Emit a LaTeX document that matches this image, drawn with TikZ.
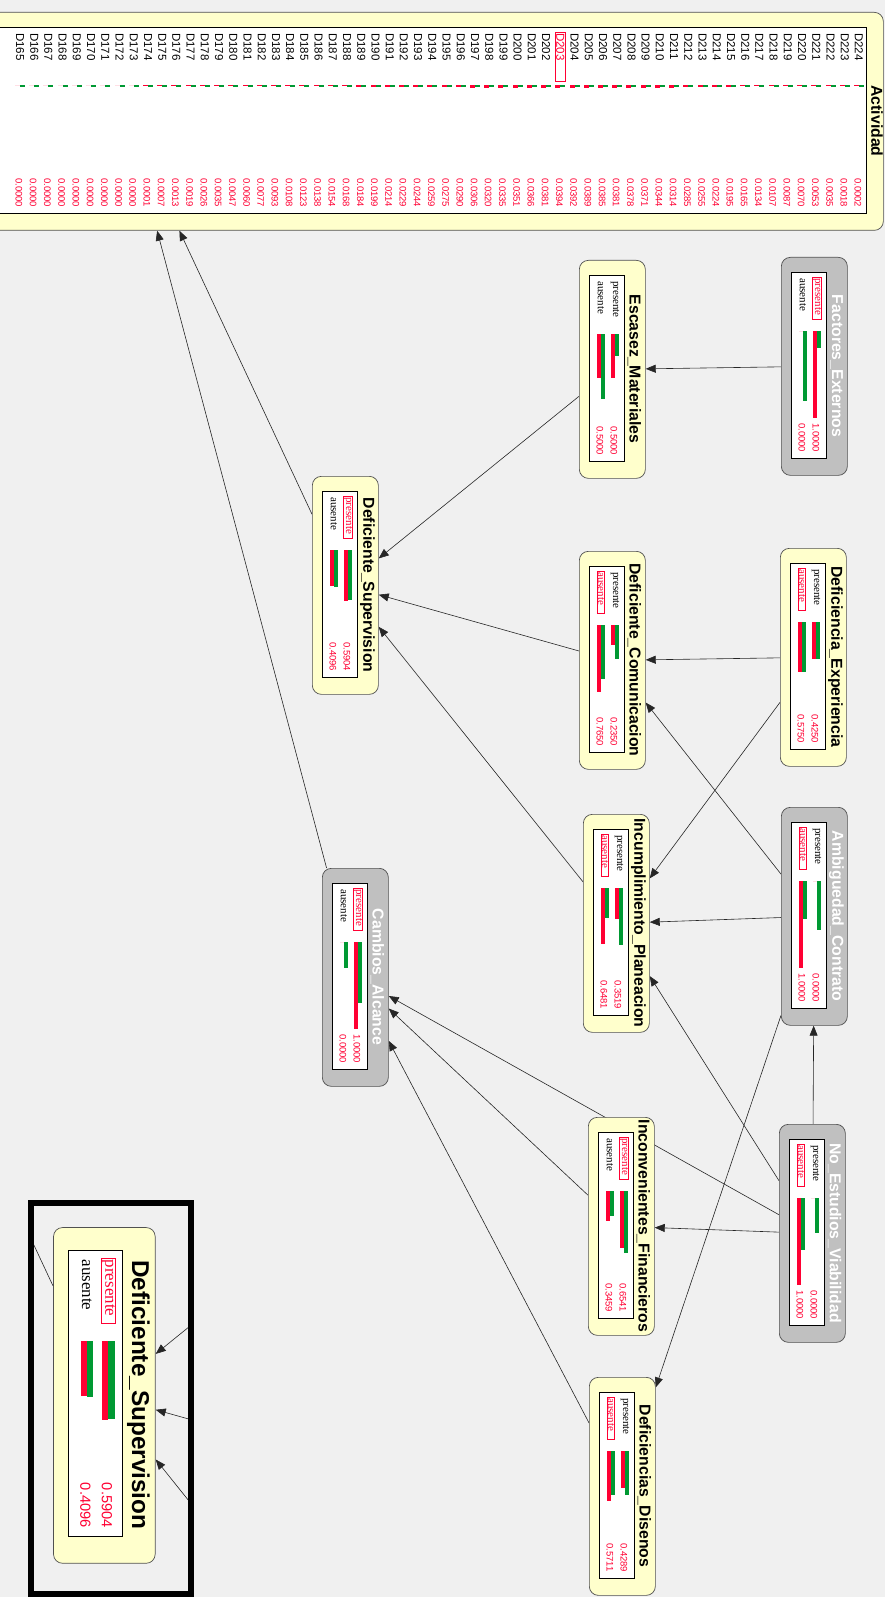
\documentclass[tikz,border=0pt]{standalone}
\usepackage{fontspec}
\setmainfont{Liberation Serif}
\setsansfont{Liberation Sans}
\usetikzlibrary{arrows.meta, backgrounds}

\definecolor{FondoGris}{RGB}{240,240,240}
\definecolor{NodoAmarillo}{RGB}{255,255,204}
\definecolor{NodoGris}{RGB}{192,192,192}
\definecolor{BordeNodo}{RGB}{80,80,80}
\definecolor{BarraRoja}{RGB}{255,0,51}
\definecolor{BarraVerde}{RGB}{0,153,51}

% nodo de la red: #1 nombre, #2 #3 esquina, #4 lib/obs, #5 titulo,
% #6 estado marcado (0 ninguno, 1 presente, 2 ausente), #7 #8 posterior, #9 previa de presente
\newcommand{\nodored}[9]{%
	\ifcase#6 \tikzset{est pres/.style={}, est aus/.style={}}%
	\or \tikzset{est pres/.style={marcado}, est aus/.style={}}%
	\or \tikzset{est pres/.style={}, est aus/.style={marcado}}\fi
	\node[caja #4] (#1) at (#2,#3) {};
	\node[titulo #4] at ({#2+55.5},{#3+109}) {#5};
	\draw[fill=white, line width=0.7pt] ({#2+10},{#3+15}) rectangle ({#2+45},{#3+201});
	\node[estado, est pres] at ({#2+36},{#3+20}) {presente};
	\node[estado, est aus] at ({#2+22},{#3+20}) {ausente};
	\fill[BarraRoja] ({#2+32},{#3+74}) rectangle ({#2+36},{#3+74+87*#7});
	\fill[BarraVerde] ({#2+36},{#3+74}) rectangle ({#2+40},{#3+74+87*#9});
	\fill[BarraRoja] ({#2+18},{#3+74}) rectangle ({#2+22},{#3+74+87*#8});
	\fill[BarraVerde] ({#2+22},{#3+74}) rectangle ({#2+26},{#3+74+87*(1-#9)});
	\node[valor] at ({#2+35},{#3+166}) {#7};
	\node[valor] at ({#2+21},{#3+166}) {#8};
}

\begin{document}
\begin{tikzpicture}[x=1pt, y=-1pt,
	caja/.style={draw=BordeNodo, rounded corners=9pt, minimum width=66pt, minimum height=218pt,
		anchor=north west, inner sep=0pt, line width=0.7pt},
	caja lib/.style={caja, fill=NodoAmarillo},
	caja obs/.style={caja, fill=NodoGris},
	titulo/.style={rotate=-90, inner sep=0pt, font=\fontsize{15.8}{18}\selectfont\sffamily\bfseries},
	titulo lib/.style={titulo, text=black},
	titulo obs/.style={titulo, text=white},
	estado/.style={rotate=-90, anchor=west, text width=40pt, align=left, inner xsep=1pt,
		inner ysep=0.5pt, font=\fontsize{11}{12}\selectfont\rmfamily},
	marcado/.style={draw=BarraRoja, text=BarraRoja, line width=0.6pt},
	valor/.style={rotate=-90, anchor=west, inner sep=0pt, text=BarraRoja,
		font=\fontsize{9.5}{10}\selectfont\sffamily},
	flecha/.style={-{Triangle[length=10pt,width=8pt]}, draw=black!85, line width=0.6pt}]
	\useasboundingbox (0,0) rectangle (885,1597);
	\begin{scope}[on background layer]
		\fill[FondoGris] (0,0) rectangle (885,1597);
	\end{scope}

	% Actividad
	\node[caja lib, minimum width=1510pt] (actividad) at (-627,12) {};
	\node[titulo lib] at (877,121) {Actividad};
	\draw[fill=white, line width=0.7pt] (-620,27) rectangle (866,213);
	\foreach \p [count=\i from 0] in {0.0000,0.0000,0.0000,0.0000,0.0000,0.0000,0.0000,0.0000,0.0000,
		0.0001,0.0007,0.0013,0.0019,0.0026,0.0035,0.0047,0.0060,0.0077,0.0093,0.0108,
		0.0123,0.0138,0.0154,0.0168,0.0184,0.0199,0.0214,0.0229,0.0244,0.0259,
		0.0275,0.0290,0.0306,0.0320,0.0335,0.0351,0.0366,0.0381,0.0394,0.0392,
		0.0389,0.0385,0.0381,0.0378,0.0371,0.0344,0.0314,0.0285,0.0255,0.0224,
		0.0195,0.0165,0.0134,0.0107,0.0087,0.0070,0.0053,0.0035,0.0018,0.0002}{
		\pgfmathtruncatemacro\num{165+\i}
		\pgfmathsetmacro\xd{20+14.22*\i}
		\pgfmathsetmacro\alto{\p>0 ? max(1.5,85*\p) : 0}
		\ifnum\num=203 \tikzset{est act/.style={marcado}}\else \tikzset{est act/.style={}}\fi
		\node[estado, est act, text width=47pt, font=\fontsize{11.5}{12}\selectfont\sffamily]
			(d\num) at (\xd,32) {D\num};
		\fill[BarraRoja] ({\xd-5},85) rectangle (\xd,{85+\alto});
		\fill[BarraVerde] (\xd,85) rectangle ({\xd+5},86.8);
		\node[valor] at ({\xd-1},178) {\p};
	}

	% red causal
	\nodored{factores}{781}{257}{obs}{Factores\_Externos}{1}{1.0000}{0.0000}{0.2}
	\nodored{escasez}{579}{260}{lib}{Escasez\_Materiales}{0}{0.5000}{0.5000}{0.25}
	\nodored{supervision}{312}{476}{lib}{Deficiente\_Supervision}{1}{0.5904}{0.4096}{0.58}
	\nodored{experiencia}{780}{548}{lib}{Deficiencia\_Experiencia}{2}{0.4250}{0.5750}{0.425}
	\nodored{comunicacion}{579}{551}{lib}{Deficiente\_Comunicacion}{2}{0.2350}{0.7650}{0.385}
	\nodored{ambiguedad}{781}{807}{obs}{Ambiguedad\_Contrato}{2}{0.0000}{1.0000}{0.56}
	\nodored{incumplimiento}{583}{814}{lib}{Incumplimiento\_Planeacion}{2}{0.3519}{0.6481}{0.65}
	\nodored{cambios}{322}{868}{obs}{Cambios\_Alcance}{1}{1.0000}{0.0000}{0.7}
	\nodored{noestudios}{779}{1124}{obs}{No\_Estudios\_Viabilidad}{2}{0.0000}{1.0000}{0.4}
	\nodored{inconvenientes}{588}{1117}{lib}{Inconvenientes\_Financieros}{1}{0.6541}{0.3459}{0.71}
	\nodored{disenos}{589}{1377}{lib}{Deficiencias\_Disenos}{2}{0.4289}{0.5711}{0.5}

	\begin{scope}[on background layer]
		\draw[flecha] (factores) -- (escasez);
		\draw[flecha] (escasez) -- (supervision);
		\draw[flecha] (experiencia) -- (comunicacion);
		\draw[flecha] (experiencia) -- (incumplimiento);
		\draw[flecha] (comunicacion) -- (supervision);
		\draw[flecha] (incumplimiento) -- (supervision);
		\draw[flecha] (ambiguedad) -- (comunicacion);
		\draw[flecha] (ambiguedad) -- (incumplimiento);
		\draw[flecha] (ambiguedad) -- (disenos);
		\draw[flecha] (noestudios) -- (ambiguedad);
		\draw[flecha] (noestudios) -- (incumplimiento);
		\draw[flecha] (noestudios) -- (inconvenientes);
		\draw[flecha] (noestudios) -- (cambios);
		\draw[flecha] (inconvenientes) -- (cambios);
		\draw[flecha] (disenos) -- (cambios);
		\draw[flecha] (supervision) -- (actividad);
		\draw[flecha] (cambios) -- (actividad);
	\end{scope}

	% lupa sobre Deficiente_Supervision
	\begin{scope}
		\clip (31,1203) rectangle (191,1597);
		\fill[FondoGris] (31,1203) rectangle (191,1597);
		\begin{scope}[shift={(53,1227)}, scale=1.54, transform shape]
			\nodored{supl}{0}{0}{lib}{Deficiente\_Supervision}{1}{0.5904}{0.4096}{0.58}
			\coordinate (lupa esc) at (300,-107);
			\coordinate (lupa com) at (300,184);
			\coordinate (lupa inc) at (304,447);
			\coordinate (lupa act) at (-184,-355);
			\draw[flecha] (lupa esc) -- (supl);
			\draw[flecha] (lupa com) -- (supl);
			\draw[flecha] (lupa inc) -- (supl);
			\draw[flecha] (supl) -- (lupa act);
		\end{scope}
	\end{scope}
	\draw[line width=6pt] (31,1203) rectangle (191,1594);
\end{tikzpicture}
\end{document}
